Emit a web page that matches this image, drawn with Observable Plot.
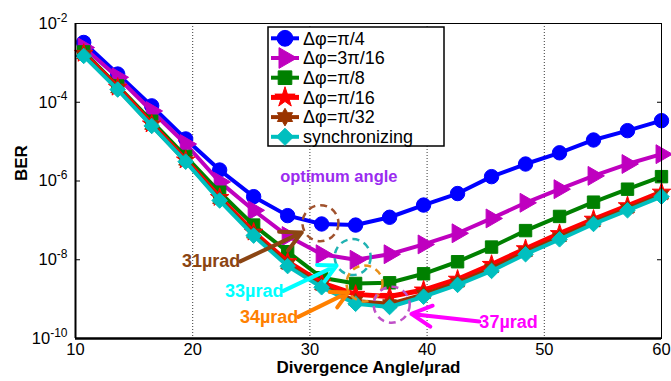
<!DOCTYPE html>
<html><head><meta charset="utf-8">
<script src="https://cdn.jsdelivr.net/npm/d3@7"></script>
<script src="https://cdn.jsdelivr.net/npm/@observablehq/plot@0.6"></script>
<style>
html,body{margin:0;padding:0;background:#fff;}
#chart{position:relative;width:671px;height:381px;}
</style></head><body><div id="chart"></div>
<script>
// ---- data ----
const angles = [10.7,13.6,16.5,19.4,22.3,25.2,28.1,31.0,33.9,36.8,39.7,42.6,45.5,48.4,51.3,54.2,57.1,60.0];
const berPi4    = [3.3e-3,5.2e-4,8.1e-5,1.17e-5,1.9e-6,4.0e-7,1.32e-7,8.1e-8,7.6e-8,1.2e-7,2.45e-7,4.8e-7,1.29e-6,2.7e-6,5.2e-6,1.1e-5,1.9e-5,3.4e-5];
const ber3Pi16  = [2.45e-3,4.3e-4,6.0e-5,8.7e-6,9.5e-7,1.8e-7,4.0e-8,1.38e-8,1.0e-8,1.38e-8,2.45e-8,4.7e-8,1.12e-7,2.8e-7,6.2e-7,1.35e-6,2.7e-6,4.8e-6];
const berPi8    = [1.9e-3,2.6e-4,3.3e-5,4.2e-6,5.2e-7,7.6e-8,1.6e-8,3.5e-9,2.5e-9,2.6e-9,4.4e-9,8.9e-9,2.1e-8,5.5e-8,1.26e-7,2.9e-7,6.2e-7,1.29e-6];
const berPi16   = [1.74e-3,2.4e-4,2.8e-5,3.4e-6,3.8e-7,5.0e-8,8.9e-9,2.6e-9,1.32e-9,1.17e-9,1.7e-9,3.2e-9,7.6e-9,1.9e-8,4.6e-8,1.07e-7,2.35e-7,5.2e-7];
const berPi32   = [1.6e-3,2.2e-4,2.6e-5,3.2e-6,3.4e-7,4.5e-8,7.6e-9,2.2e-9,8.9e-10,7.6e-10,1.32e-9,2.6e-9,6.0e-9,1.55e-8,3.7e-8,8.9e-8,2.0e-7,4.4e-7];
const berSync   = [1.5e-3,2.1e-4,2.5e-5,3.1e-6,3.2e-7,4.1e-8,6.9e-9,2.0e-9,7.6e-10,6.3e-10,1.15e-9,2.3e-9,5.2e-9,1.38e-8,3.3e-8,8.1e-8,1.8e-7,4.0e-7];
const seriesNames  = ["Δφ=π/4","Δφ=3π/16","Δφ=π/8","Δφ=π/16","Δφ=π/32","synchronizing"];
const seriesValues = [berPi4, ber3Pi16, berPi8, berPi16, berPi32, berSync];
const xTicks = [10,20,30,40,50,60];
const gridX  = [20,30,40,50];
const yTicks = [1e-2,1e-4,1e-6,1e-8,1e-10];
const xLabel = "Divergence Angle/µrad";
const yLabel = "BER";

// annotations (data coordinates)
const circleX = [30.9, 33.65, 34.66, 36.98];
const circleY = [8.5e-8, 1.17e-8, 2.5e-9, 7.2e-10];
const noteText = ["31µrad","33µrad","34µrad","37µrad"];
const noteX  = [24.06, 27.74, 29.01, 44.46];
const noteY  = [9.3e-9, 1.62e-9, 3.5e-10, 2.6e-10];
const noteAnchor = ["end","end","end","start"];
const arrowX1 = [24.06, 27.74, 29.01, 44.46];
const arrowY1 = [9.1e-9, 1.62e-9, 3.55e-10, 2.7e-10];
const arrowX2 = [29.3, 32.28, 33.27, 38.66];
const arrowY2 = [4.9e-8, 7.1e-9, 1.48e-9, 4.2e-10];
const optimumText = "optimum angle";
const optimumX = 27.46, optimumY = 1.25e-6;

// ---- styles ----
const colors = ["#0000ff","#bf00bf","#008000","#ff0000","#993300","#00bfbf"];
const noteColors = ["#8b4513","#00ffff","#ff8000","#ff00ff"];
const circleColors = ["#a0522d","#20b2b2","#e8901a","#c050c8"];
const hexagram = {draw(ctx, size){
  const R = Math.sqrt(size/Math.PI)*1.6, r = R/Math.sqrt(3);
  for (let i=0;i<12;i++){ const a = i*Math.PI/6 - Math.PI/2, rr = i%2 ? r : R;
    const x = rr*Math.cos(a), y = rr*Math.sin(a); i ? ctx.lineTo(x,y) : ctx.moveTo(x,y); }
  ctx.closePath();
}};
const symbols = ["circle","triangle","square","star",hexagram,"diamond2"];
const d3symbols = [d3.symbolCircle,d3.symbolTriangle,d3.symbolSquare,d3.symbolStar,hexagram,d3.symbolDiamond2];
const radii = [7.2,7,7,5.8,5,7];
const rotations = [0,90,0,0,0,0];
const lineWidths = [4,4,4,5,4,4];

const rows = [];
seriesValues.forEach((vals, s) => vals.forEach((v, i) => rows.push({series: s, x: angles[i], ber: v})));

const marks = [
  Plot.ruleX(gridX, {stroke: "#222", strokeWidth: 0.9, strokeDasharray: "1,2"}),
];
seriesNames.forEach((name, s) => {
  const d = rows.filter(r => r.series === s);
  marks.push(Plot.line(d, {x: "x", y: "ber", stroke: colors[s], strokeWidth: lineWidths[s], curve: "linear"}));
  marks.push(Plot.dot(d, {x: "x", y: "ber", symbol: symbols[s], r: radii[s], fill: colors[s], stroke: colors[s], strokeWidth: 1, rotate: rotations[s]}));
});
// annotation circles, arrows, texts
marks.push(Plot.dot(circleX.map((x,i)=>({x, y: circleY[i], c: circleColors[i]})), {x:"x", y:"y", r: 18, stroke: d=>d.c, fill: "none", strokeWidth: 2.5, strokeDasharray: "7,5"}));
marks.push(Plot.arrow(arrowX1.map((x,i)=>({x1:x, y1: arrowY1[i], x2: arrowX2[i], y2: arrowY2[i], c: noteColors[i]})), {x1:"x1", y1:"y1", x2:"x2", y2:"y2", stroke: d=>d.c, strokeWidth: 4, headLength: 13, headAngle: 55}));
const notes = noteText.map((t,i)=>({t, x: noteX[i], y: noteY[i], c: noteColors[i], a: noteAnchor[i]}));
marks.push(Plot.text(notes.filter(d=>d.a==="end"), {x:"x", y:"y", text:"t", fill: d=>d.c, fontWeight:"bold", fontSize: 18, textAnchor: "end"}));
marks.push(Plot.text(notes.filter(d=>d.a==="start"), {x:"x", y:"y", text:"t", fill: d=>d.c, fontWeight:"bold", fontSize: 18, textAnchor: "start"}));
marks.push(Plot.text([optimumText], {x: optimumX, y: optimumY, text: d=>d, fill: "#9a2cf0", fontWeight: "bold", fontSize: 16.5, textAnchor: "start"}));
// frame & axes
marks.push(Plot.frame({stroke: "black", strokeWidth: 1}));
marks.push(Plot.ruleX([10], {stroke: "black", strokeWidth: 2}));
marks.push(Plot.ruleY([1e-10], {stroke: "black", strokeWidth: 2.5}));
marks.push(Plot.axisX({ticks: xTicks, tickSize: 0, tickPadding: 5, tickFormat: d => String(d), label: null, fontSize: 16.5}));
marks.push(Plot.axisY({anchor: "left", ticks: yTicks, tickSize: 0, tickPadding: 8, tickFormat: d => String(Math.round(Math.log10(d))), label: null, fontSize: 16.5}));
marks.push(Plot.axisY({anchor: "left", ticks: yTicks, tickSize: -5, tickFormat: () => "", label: null}));
marks.push(Plot.axisY({anchor: "right", ticks: yTicks, tickSize: -5, tickFormat: () => "", label: null}));
marks.push(Plot.text([xLabel], {frameAnchor: "bottom", dy: 34, text: d=>d, fontWeight: "bold", fontSize: 17}));
marks.push(Plot.text([yLabel], {frameAnchor: "left", dx: -54, text: d=>d, rotate: -90, fontWeight: "bold", fontSize: 17}));

const chart = Plot.plot({
  width: 671, height: 381,
  marginLeft: 75, marginRight: 10, marginTop: 23, marginBottom: 43,
  style: {fontFamily: "'Liberation Sans', Arial, sans-serif", fontSize: "16px", background: "white", color: "black", overflow: "visible"},
  x: {domain: [10, 60]},
  y: {type: "log", domain: [1e-10, 1e-2]},
  marks
});
document.getElementById("chart").appendChild(chart);

// superscript y tick labels
const svg = d3.select(chart);
svg.selectAll('g[aria-label="y-axis tick label"] text').each(function(){
  const t = this.textContent;
  if (!t) return;
  const sel = d3.select(this);
  sel.text(null);
  sel.append("tspan").text("10");
  sel.append("tspan").attr("dy", "-0.6em").attr("font-size", "12px").text(t);
});

// legend
const lg = svg.append("g").attr("font-family", "'Liberation Sans', Arial, sans-serif").attr("text-anchor", "start");
lg.append("rect").attr("x", 268).attr("y", 27).attr("width", 176).attr("height", 119)
  .attr("fill", "white").attr("stroke", "black").attr("stroke-width", 1.5);
seriesNames.forEach((name, s) => {
  const yy = 38.3 + s * 19.7;
  lg.append("line").attr("x1", 271).attr("x2", 299).attr("y1", yy).attr("y2", yy)
    .attr("stroke", colors[s]).attr("stroke-width", lineWidths[s]);
  lg.append("path").attr("d", d3.symbol(d3symbols[s], Math.PI * Math.pow(radii[s]*1.1, 2))())
    .attr("transform", `translate(285,${yy}) rotate(${rotations[s]})`)
    .attr("fill", colors[s]).attr("stroke", colors[s]);
  lg.append("text").attr("x", 303).attr("y", yy).attr("dy", "0.35em")
    .attr("text-anchor", "start").attr("font-size", 18).attr("fill", "black").text(name);
});
</script></body></html>
